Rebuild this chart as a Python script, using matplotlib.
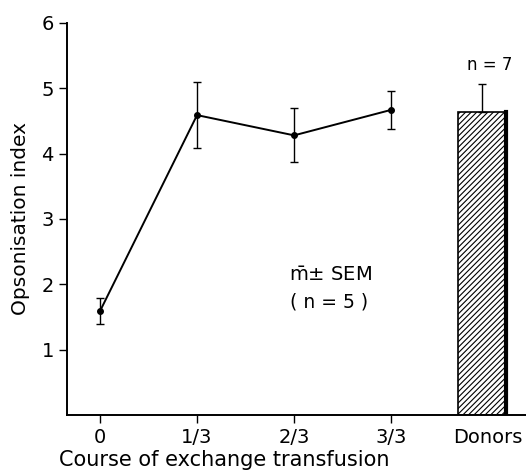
import numpy as np
import matplotlib.pyplot as plt

# course of exchange transfusion (mean +- SEM, n=5)
stages = ["0", "1/3", "2/3", "3/3"]
means = [1.59, 4.59, 4.28, 4.67]
err_lo = [1.39, 4.09, 3.88, 4.37]
err_hi = [1.79, 5.10, 4.70, 4.96]

# donors bar (n=7)
donor_mean = 4.64
donor_hi = 5.06

plt.rcParams['font.family'] = ['DejaVu Sans']
plt.rcParams['mathtext.fontset'] = 'dejavusans'
plt.rcParams['hatch.linewidth'] = 0.8

fig = plt.figure(figsize=(5.26, 4.73), dpi=100)
ax = fig.add_axes([0.1274, 0.1226, 0.8726, 0.8288])

x = np.arange(len(stages))
m = np.array(means)
yerr = [m - np.array(err_lo), np.array(err_hi) - m]
ax.errorbar(x, m, yerr=yerr, fmt='o-', color='k', ms=4, lw=1.4,
            elinewidth=1.0, capsize=3, capthick=1.0)

donor_x = 3.94
ax.bar(donor_x, donor_mean, width=0.5, facecolor='white', edgecolor='k',
       hatch='//////', lw=1.2)
ax.plot([donor_x + 0.24, donor_x + 0.24], [0, donor_mean], color='k', lw=3)
ax.errorbar([donor_x], [donor_mean], yerr=[[0], [donor_hi - donor_mean]],
            fmt='none', ecolor='k', elinewidth=1.0, capsize=3, capthick=1.0)
ax.text(donor_x + 0.08, 5.22, "n = 7", ha='center', va='bottom', fontsize=12)

ax.text(2.38, 2.14, r"$\bar{\rm m}$± SEM", ha='center', va='center', fontsize=14)
ax.text(2.36, 1.73, "( n = 5 )", ha='center', va='center', fontsize=13.5)

ax.set_xlim(-0.34, 4.39)
ax.set_ylim(0, 6)
ax.set_yticks([1, 2, 3, 4, 5, 6])
ax.set_xticks([0, 1, 2, 3, 4.0])
ax.set_xticklabels(stages + ["Donors"])
ax.xaxis.get_major_ticks()[4].tick1line.set_visible(False)
ax.tick_params(labelsize=14, width=1.0, length=6, direction='out')
ax.tick_params(axis='x', pad=3)
ax.spines['top'].set_visible(False)
ax.spines['right'].set_visible(False)
ax.spines['left'].set_linewidth(1.4)
ax.spines['bottom'].set_linewidth(1.4)

ax.set_xlabel("Course of exchange transfusion", fontsize=15)
ax.xaxis.set_label_coords(0.342, -0.088)
ax.set_ylabel("Opsonisation index", fontsize=14.5, labelpad=8)

fig.savefig("out.png", dpi=100)
